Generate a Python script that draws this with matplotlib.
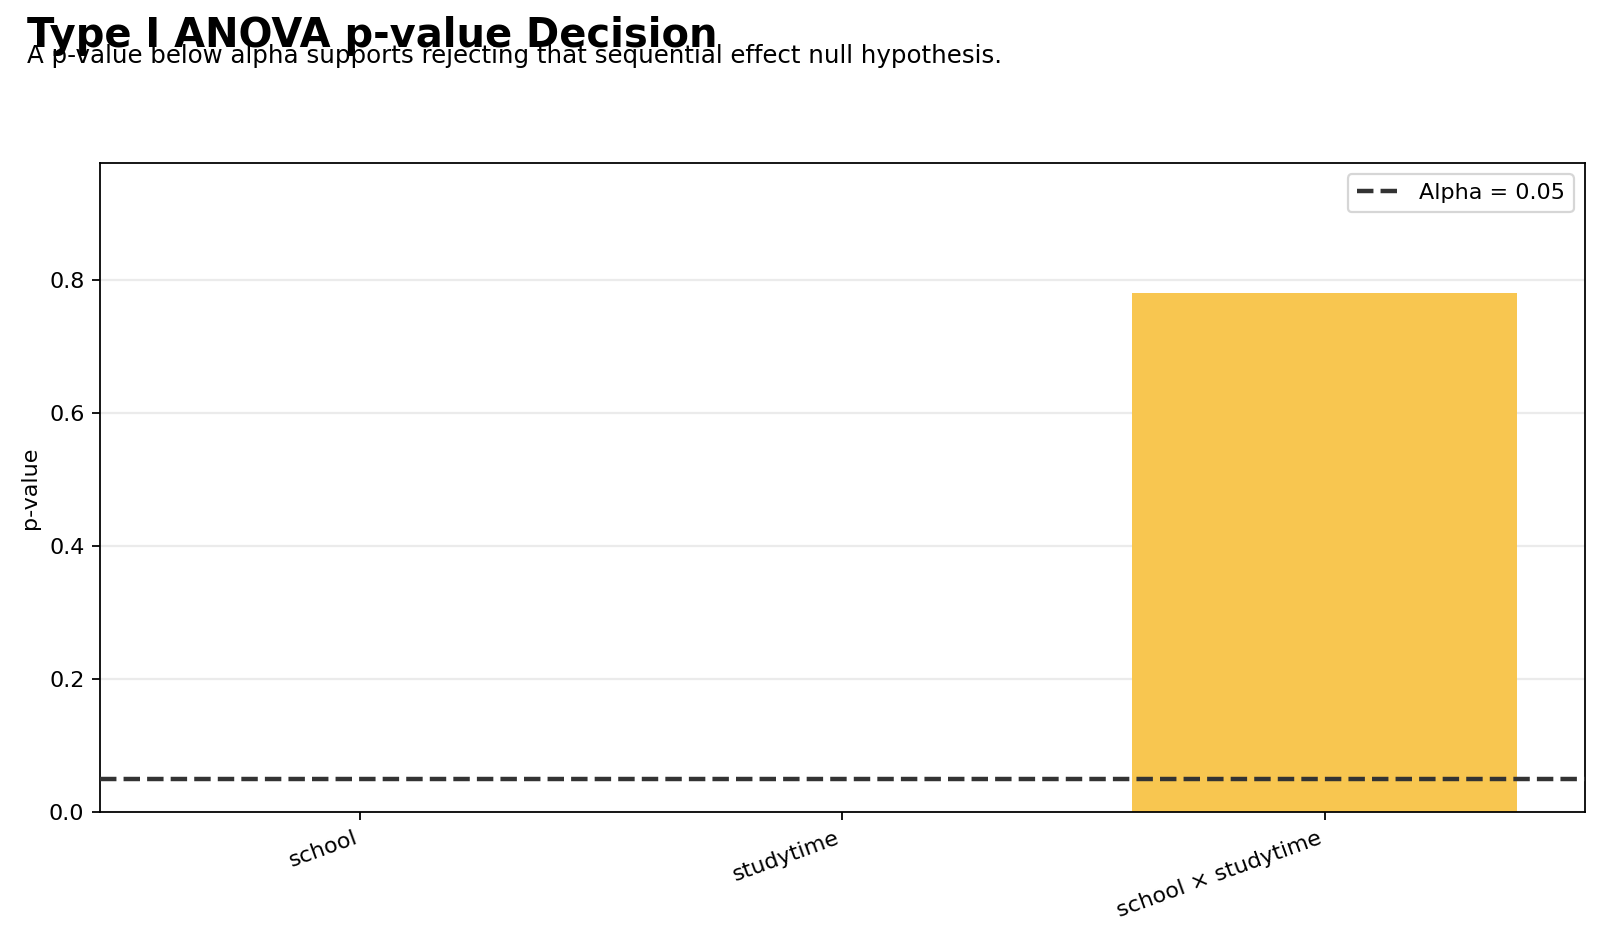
import numpy as np
import matplotlib.pyplot as plt

# Type I ANOVA p-values per sequential term
terms = ['school', 'studytime', 'school × studytime']
p_values = [0.00001, 0.0003, 0.78]
alpha = 0.05

colors = ['#4C78A8' if p < alpha else '#F8C650' for p in p_values]

fig, ax = plt.subplots(figsize=(10, 5.8625), dpi=160)
fig.subplots_adjust(left=0.0625, right=0.9906, bottom=0.134, top=0.826)

x = np.arange(len(terms))
ax.bar(x, p_values, width=0.8, color=colors, zorder=2)
ax.axhline(alpha, color='#333333', lw=2, linestyle='--',
           label=f'Alpha = {alpha}', zorder=3)

ax.set_xticks(x)
ax.set_xticklabels(terms, rotation=20, ha='right')
ax.set_ylabel('p-value')
ax.set_ylim(0, max(p_values) * 1.25)
ax.yaxis.grid(True, color='#ebebeb', lw=1, zorder=0)
ax.set_axisbelow(True)
ax.legend(loc='upper right')

fig.text(0.017, 0.983, 'Type I ANOVA p-value Decision', fontsize=18,
         fontweight='bold', ha='left', va='top')
fig.text(0.017, 0.953, 'A p-value below alpha supports rejecting that sequential effect null hypothesis.',
         fontsize=11, ha='left', va='top')

fig.savefig('out.png', dpi=160)
